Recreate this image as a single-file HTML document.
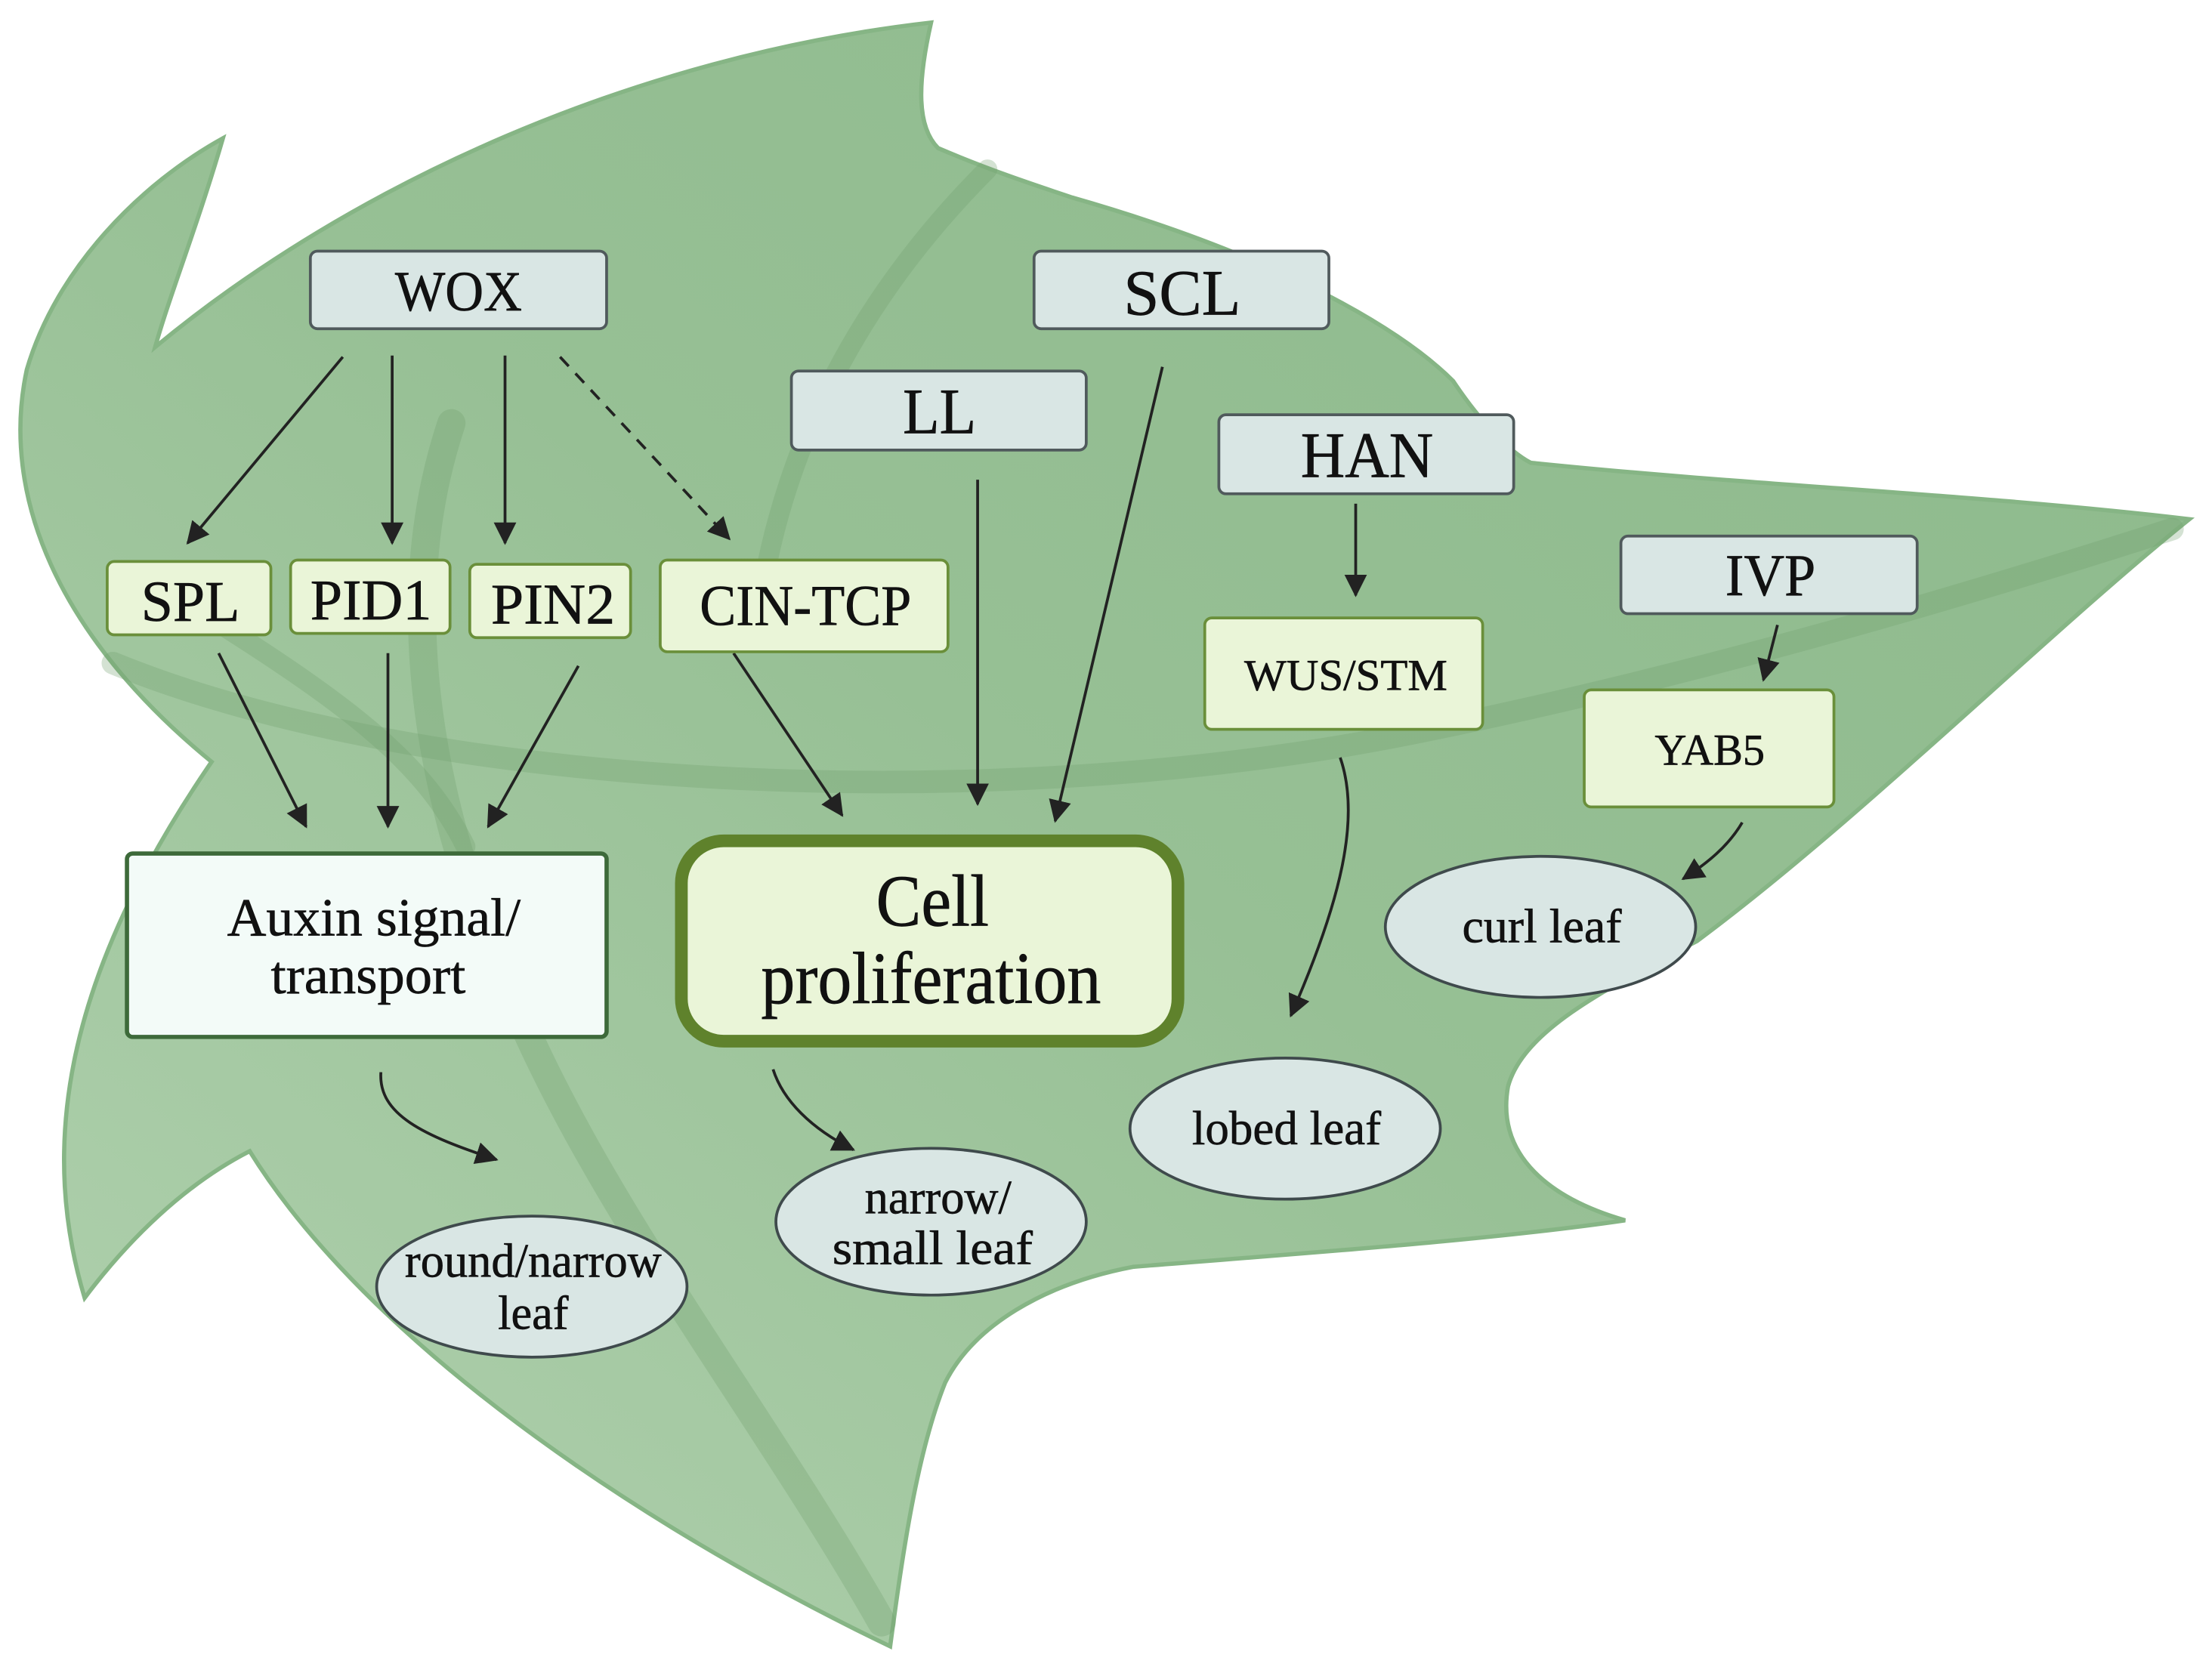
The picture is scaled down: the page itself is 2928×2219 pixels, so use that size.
<!DOCTYPE html>
<html><head><meta charset="utf-8"><style>
html,body{margin:0;padding:0;background:#fff}
svg{display:block}
text{font-family:"Liberation Serif",serif;fill:#111;text-anchor:middle;stroke:#111;stroke-width:0.35}
</style></head><body>
<svg width="2928" height="2219" viewBox="0 0 1568 1188" preserveAspectRatio="none" xmlns="http://www.w3.org/2000/svg">
<defs>
<linearGradient id="lg" x1="1" y1="0" x2="0" y2="1">
<stop offset="0" stop-color="#8cb98b"/>
<stop offset="0.5" stop-color="#97c095"/>
<stop offset="1" stop-color="#b2d2b0"/>
</linearGradient>
<marker id="a" viewBox="0 0 12 12" refX="11" refY="6" markerWidth="16" markerHeight="16" orient="auto" markerUnits="userSpaceOnUse"><path d="M0,0 L12,6 L0,12 Z" fill="#222"/></marker>
</defs>
<path d="M158,98 C140,160 120,210 110,246 C250,130 450,40 660,16 C650,60 650,90 665,105 C700,120 730,130 760,140 C900,180 990,230 1030,270 C1050,300 1070,320 1085,328 C1250,345 1400,350 1552,368 C1450,450 1320,580 1203,667 C1140,700 1080,730 1069,770 C1060,820 1100,850 1152,865 C1050,880 900,890 803,898 C740,910 690,940 670,980 C650,1030 640,1100 631,1167 C450,1080 260,950 177,816 C130,840 90,880 60,920 C30,820 40,700 150,540 C40,450 0,350 19,262 C40,190 100,130 158,98 Z" fill="url(#lg)" stroke="#86b585" stroke-width="3"/>
<g fill="none" stroke="#6f9f6e" stroke-opacity="0.3" stroke-linecap="round">
<path d="M625,1150 C540,1000 420,850 360,700 C300,560 280,420 320,300" stroke-width="20"/>
<path d="M80,470 C300,560 700,580 1000,520 C1200,480 1400,420 1540,375" stroke-width="16"/>
<path d="M120,420 C250,500 300,540 330,600" stroke-width="14"/>
<path d="M700,120 C620,200 560,300 540,420" stroke-width="14"/>
</g>
<g stroke="#222" stroke-width="2" fill="none">
<line x1="243" y1="253" x2="133" y2="385" marker-end="url(#a)"/>
<line x1="278" y1="252" x2="278" y2="385" marker-end="url(#a)"/>
<line x1="358" y1="252" x2="358" y2="385" marker-end="url(#a)"/>
<line x1="397" y1="253" x2="517" y2="382" stroke-dasharray="9,7" marker-end="url(#a)"/>
<line x1="155" y1="463" x2="217" y2="586" marker-end="url(#a)"/>
<line x1="275" y1="463" x2="275" y2="586" marker-end="url(#a)"/>
<line x1="410" y1="472" x2="346" y2="586" marker-end="url(#a)"/>
<line x1="520" y1="463" x2="597" y2="578" marker-end="url(#a)"/>
<line x1="693" y1="340" x2="693" y2="570" marker-end="url(#a)"/>
<line x1="824" y1="260" x2="748" y2="582" marker-end="url(#a)"/>
<line x1="961" y1="357" x2="961" y2="422" marker-end="url(#a)"/>
<line x1="1260" y1="443" x2="1250" y2="482" marker-end="url(#a)"/>
<path d="M1235,583 C1225,600 1210,612 1193,623" marker-end="url(#a)"/>
<path d="M950,537 C965,580 950,640 915,720" marker-end="url(#a)"/>
<path d="M270,760 C268,790 300,805 352,822" marker-end="url(#a)"/>
<path d="M548,758 C555,780 575,800 605,815" marker-end="url(#a)"/>
</g>
<g fill="#d9e6e4" stroke="#505a5c" stroke-width="2">
<rect x="220" y="178" width="210" height="55" rx="5"/>
<rect x="733" y="178" width="209" height="55" rx="5"/>
<rect x="561" y="263" width="209" height="56" rx="5"/>
<rect x="864" y="294" width="209" height="56" rx="5"/>
<rect x="1149" y="380" width="210" height="55" rx="5"/>
</g>
<g fill="#eaf5d8" stroke="#6a8f3a" stroke-width="2">
<rect x="76" y="398" width="116" height="52" rx="5"/>
<rect x="206" y="397" width="113" height="52" rx="5"/>
<rect x="333" y="400" width="114" height="52" rx="5"/>
<rect x="468" y="397" width="204" height="65" rx="5"/>
<rect x="854" y="438" width="197" height="79" rx="5"/>
<rect x="1123" y="489" width="177" height="83" rx="5"/>
</g>
<rect x="90" y="605" width="340" height="130" rx="4" fill="#f3fbf8" stroke="#3d6a3a" stroke-width="3"/>
<rect x="483" y="596" width="352" height="142" rx="30" fill="#eaf5d8" stroke="#5f822c" stroke-width="9"/>
<g fill="#d9e6e4" stroke="#3f4a4c" stroke-width="2">
<ellipse cx="377" cy="912" rx="110" ry="50"/>
<ellipse cx="660" cy="866" rx="110" ry="52"/>
<ellipse cx="911" cy="800" rx="110" ry="50"/>
<ellipse cx="1092" cy="657" rx="110" ry="50"/>
</g>
<g lengthAdjust="spacingAndGlyphs">
<text x="325" y="220" font-size="40" textLength="90" lengthAdjust="spacingAndGlyphs">WOX</text>
<text x="838" y="223" font-size="46" textLength="83" lengthAdjust="spacingAndGlyphs">SCL</text>
<text x="666" y="307" font-size="46" textLength="52" lengthAdjust="spacingAndGlyphs">LL</text>
<text x="969" y="338" font-size="46" textLength="94" lengthAdjust="spacingAndGlyphs">HAN</text>
<text x="1255" y="422" font-size="42" textLength="64" lengthAdjust="spacingAndGlyphs">IVP</text>
<text x="135" y="440" font-size="41" textLength="70" lengthAdjust="spacingAndGlyphs">SPL</text>
<text x="263" y="439" font-size="41" textLength="86" lengthAdjust="spacingAndGlyphs">PID1</text>
<text x="392" y="442" font-size="41" textLength="88" lengthAdjust="spacingAndGlyphs">PIN2</text>
<text x="571" y="443" font-size="41" textLength="150" lengthAdjust="spacingAndGlyphs">CIN-TCP</text>
<text x="954" y="489" font-size="31" textLength="144" lengthAdjust="spacingAndGlyphs">WUS/STM</text>
<text x="1212" y="542" font-size="31" textLength="78" lengthAdjust="spacingAndGlyphs">YAB5</text>
<text x="265" y="663" font-size="38" textLength="208" lengthAdjust="spacingAndGlyphs">Auxin signal/</text>
<text x="261" y="704" font-size="38" textLength="138" lengthAdjust="spacingAndGlyphs">transport</text>
<text x="661" y="656" font-size="52" textLength="80" lengthAdjust="spacingAndGlyphs">Cell</text>
<text x="660" y="711" font-size="52" textLength="241" lengthAdjust="spacingAndGlyphs">proliferation</text>
<text x="378" y="905" font-size="34" textLength="182" lengthAdjust="spacingAndGlyphs">round/narrow</text>
<text x="378" y="942" font-size="34" textLength="50" lengthAdjust="spacingAndGlyphs">leaf</text>
<text x="665" y="860" font-size="34" textLength="104" lengthAdjust="spacingAndGlyphs">narrow/</text>
<text x="661" y="896" font-size="34" textLength="142" lengthAdjust="spacingAndGlyphs">small  leaf</text>
<text x="912" y="811" font-size="34" textLength="134" lengthAdjust="spacingAndGlyphs">lobed leaf</text>
<text x="1093" y="668" font-size="34" textLength="113" lengthAdjust="spacingAndGlyphs">curl leaf</text>
</g>
</svg>
</body></html>
